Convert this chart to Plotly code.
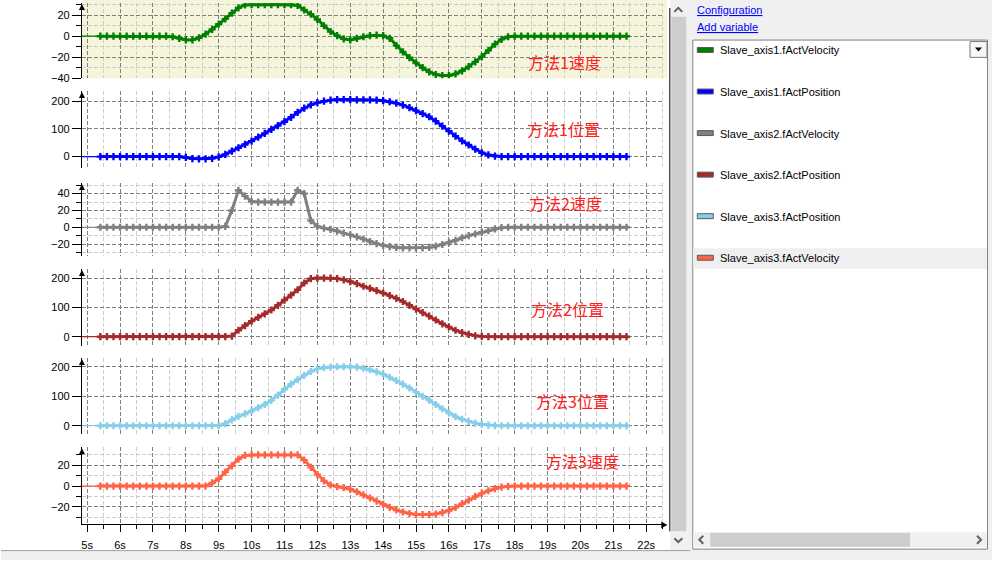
import plotly.graph_objects as go

W, H = 992, 566

# ---------------- data ----------------
time_s = [5.4, 5.6, 5.8, 6.0, 6.2, 6.4, 6.6, 6.8, 7.0, 7.2, 7.4, 7.6, 7.8, 8.0, 8.2, 8.4,
          8.6, 8.8, 9.0, 9.2, 9.4, 9.6, 9.8, 10.0, 10.2, 10.4, 10.6, 10.8, 11.0, 11.2, 11.4,
          11.6, 11.8, 12.0, 12.2, 12.4, 12.6, 12.8, 13.0, 13.2, 13.4, 13.6, 13.8, 14.0, 14.2,
          14.4, 14.6, 14.8, 15.0, 15.2, 15.4, 15.6, 15.8, 16.0, 16.2, 16.4, 16.6, 16.8, 17.0,
          17.2, 17.4, 17.6, 17.8, 18.0, 18.2, 18.4, 18.6, 18.8, 19.0, 19.2, 19.4, 19.6, 19.8,
          20.0, 20.2, 20.4, 20.6, 20.8, 21.0, 21.2, 21.4]

axis1_velocity = [0, 0, 0, 0, 0, 0, 0, 0, 0, 0, 0, -0.5, -2, -3.5, -3.5, -1.5,
                  2, 6.5, 11.5, 16.5, 22, 27, 29.8, 30, 30, 30, 30, 30, 30, 30, 29.5,
                  25, 21, 16, 10, 4.5, 0.5, -2.5, -3.5, -2, -0.5, 0.5, 1, 0.5, -2,
                  -9, -15, -20.5, -25.5, -30, -34, -36.5, -37.5, -37.5, -36, -33, -29, -24.5, -19.5,
                  -13.5, -7.5, -3, -0.5, 0, 0, 0, 0, 0, 0, 0, 0, 0, 0,
                  0, 0, 0, 0, 0, 0, 0, 0]

axis1_position = [0, 0, 0, 0, 0, 0, 0, 0, 0, 0, 0, 0, 0, -3, -7, -8,
                  -8, -6, -1, 8, 20, 32, 44, 56, 70, 84, 98, 112, 126, 142, 160,
                  175, 187, 195, 200, 204, 206, 206, 206, 205, 205, 205, 204, 202, 198,
                  193, 186, 177, 166, 155, 144, 128, 110, 92, 74, 57, 42, 27, 14,
                  6, 2, 0, 0, 0, 0, 0, 0, 0, 0, 0, 0, 0, 0,
                  0, 0, 0, 0, 0, 0, 0, 0]

axis2_velocity = [0, 0, 0, 0, 0, 0, 0, 0, 0, 0, 0, 0, 0, 0, 0, 0,
                  0, 0, 0, 1, 20, 44, 37, 30.5, 30, 30, 30, 30, 30, 30, 44,
                  40, 8, 1, -1, -2.5, -4.5, -7, -9, -11.5, -14, -17, -19.5, -21.5, -23,
                  -24, -24.5, -24.5, -24.5, -24.5, -24, -22.5, -20.5, -18, -15.5, -12.5, -10, -8, -6,
                  -4, -2, -0.5, 0, 0, 0, 0, 0, 0, 0, 0, 0, 0, 0,
                  0, 0, 0, 0, 0, 0, 0, 0]

axis2_position = [0, 0, 0, 0, 0, 0, 0, 0, 0, 0, 0, 0, 0, 0, 0, 0,
                  0, 0, 0, 0, 2, 22, 38, 53, 66, 78, 91, 107, 125, 142, 160,
                  183, 198, 200, 200, 199.5, 198, 194, 188, 181, 172, 165, 157, 149, 140,
                  131, 120, 107, 94, 82, 70, 57, 44, 33, 22, 14, 8, 3, 1,
                  0, 0, 0, 0, 0, 0, 0, 0, 0, 0, 0, 0, 0, 0,
                  0, 0, 0, 0, 0, 0, 0, 0]

axis3_position = [0, 0, 0, 0, 0, 0, 0, 0, 0, 0, 0, 0, 0, 0, 0, 0,
                  0, 0, 1, 7, 20, 32, 40, 50, 61, 72, 86, 104, 124, 141, 156,
                  171, 184, 193, 197, 199, 200, 200, 200, 199, 195, 190, 183, 175, 164,
                  153, 141, 128, 114, 100, 87, 72, 57, 43, 31, 22, 15, 9, 5,
                  2, 0.5, 0, 0, 0, 0, 0, 0, 0, 0, 0, 0, 0, 0,
                  0, 0, 0, 0, 0, 0, 0, 0]

axis3_velocity = [0, 0, 0, 0, 0, 0, 0, 0, 0, 0, 0, 0, 0, 0, 0, 0,
                  0, 3, 7, 13.5, 19.5, 26, 29.5, 30, 30, 30, 30, 30, 30, 30, 30,
                  25, 18, 11, 5, 1, -0.5, -1.5, -3, -5.5, -8.5, -11.5, -14.5, -17.5, -20.5,
                  -23, -25, -26.5, -27.5, -27.5, -27.5, -27, -25.5, -23.5, -20.5, -17, -13.5, -10, -7,
                  -4.5, -2.5, -1, -0.3, 0, 0, 0, 0, 0, 0, 0, 0, 0, 0,
                  0, 0, 0, 0, 0, 0, 0, 0]

series_names = ["Slave_axis1.fActVelocity", "Slave_axis1.fActPosition",
                "Slave_axis2.fActVelocity", "Slave_axis2.fActPosition",
                "Slave_axis3.fActPosition", "Slave_axis3.fActVelocity"]
series_values = [axis1_velocity, axis1_position, axis2_velocity,
                 axis2_position, axis3_position, axis3_velocity]
series_colors = ["#008000", "#0000FF", "#808080", "#A52A2A", "#87CEEB", "#FF6347"]
panel_labels = ["方法1速度", "方法1位置", "方法2速度", "方法2位置", "方法3位置", "方法3速度"]

x_tick_suffix = "s"
X_RANGE = [4.84, 22.55]

# panel geometry (pixels) and y ranges
panel_px = [(3, 79), (92, 170), (185, 259), (272, 350), (362, 439), (452, 530)]
panel_yrange = [[-40, 31.7], [-41.8, 236.8], [-34.5, 52.6], [-32.7, 230.4], [-29.2, 229.2], [-36.9, 37.4]]
panel_dtick = [20, 100, 20, 100, 100, 20]
panel_minor = [10, None, 10, None, None, 10]
label_pos = [(564, 63), (563, 130), (565, 205), (567, 312), (572, 405), (582, 466)]
legend_rows = [51, 93, 135, 177, 219, 261]


def px(x):
    return x / W


def py(y):
    return 1 - y / H


DARK = "#7F7F7F"
LIGHT = "#CDCDCD"
DASH = "4px,2px"
TICKFONT = dict(family="Liberation Sans, Arial, sans-serif", size=11, color="#000000")

fig = go.Figure()

for i, (name, vals, color) in enumerate(zip(series_names, series_values, series_colors)):
    sfx = "" if i == 0 else str(i + 1)
    fig.add_trace(go.Scatter(
        x=[X_RANGE[0], time_s[0]], y=[vals[0], vals[0]], mode="lines",
        line=dict(color=color, width=1.2), xaxis="x" + sfx, yaxis="y" + sfx,
        hoverinfo="skip", showlegend=False))
    fig.add_trace(go.Scatter(
        x=time_s, y=vals, mode="lines+markers", name=name,
        line=dict(color=color, width=3),
        marker=dict(symbol="cross", size=6, color=color, line=dict(width=0)),
        xaxis="x" + sfx, yaxis="y" + sfx, showlegend=False))

layout = dict(
    width=W, height=H, margin=dict(l=0, r=0, t=0, b=0),
    paper_bgcolor="white", plot_bgcolor="rgba(0,0,0,0)",
    showlegend=False, hovermode=False,
)

for i in range(6):
    sfx = "" if i == 0 else str(i + 1)
    bottom = (i == 5)
    top_px, bot_px = panel_px[i]
    layout["xaxis" + sfx] = dict(
        domain=[px(81), px(664)], range=X_RANGE, anchor="y" + sfx,
        tick0=5, dtick=1, showgrid=True, gridcolor=DARK, griddash=DASH, gridwidth=1,
        zeroline=False, showline=bottom, linecolor="black", linewidth=1,
        ticks="outside" if bottom else "", ticklen=7, tickcolor="black",
        showticklabels=bottom, ticksuffix=x_tick_suffix, tickfont=TICKFONT,
        ticklabelstandoff=3,
        minor=dict(tick0=5, dtick=0.5, showgrid=True, gridcolor=LIGHT, griddash=DASH,
                   ticks="outside" if bottom else "", ticklen=4, tickcolor="black"),
        fixedrange=True)
    ydict = dict(
        domain=[py(bot_px), py(top_px)], range=panel_yrange[i], anchor="x" + sfx,
        tick0=0, dtick=panel_dtick[i], showgrid=True, gridcolor=DARK, griddash=DASH,
        zeroline=False, showline=True, linecolor="black", linewidth=1,
        ticks="outside", ticklen=9, tickcolor="black", tickfont=TICKFONT,
        fixedrange=True)
    if panel_minor[i]:
        ydict["minor"] = dict(tick0=0, dtick=panel_minor[i], showgrid=True, gridcolor=LIGHT,
                              griddash=DASH, ticks="outside", ticklen=5, tickcolor="black")
    layout["yaxis" + sfx] = ydict

fig.update_layout(**layout)

shapes = []


def rect(x0, y0, x1, y1, fill, line=None, layer="above", lw=1):
    shapes.append(dict(type="rect", xref="paper", yref="paper",
                       x0=px(x0), x1=px(x1), y0=py(y1), y1=py(y0),
                       fillcolor=fill, layer=layer,
                       line=dict(color=line if line else "rgba(0,0,0,0)", width=lw if line else 0)))


def path(points, fill=None, line=None, lw=1, closed=True):
    d = "M " + " L ".join(f"{px(a):.5f},{py(b):.5f}" for a, b in points)
    if closed:
        d += " Z"
    shapes.append(dict(type="path", xref="paper", yref="paper", path=d,
                       fillcolor=fill if fill else "rgba(0,0,0,0)",
                       line=dict(color=line if line else "rgba(0,0,0,0)", width=lw if line else 0)))


# beige background of first panel
rect(81, 0, 667, 79, "#F5F5DC", layer="below")

# y axis arrows
for top_px, bot_px in panel_px:
    path([(81, top_px + 1), (84, top_px + 7), (78, top_px + 7)], fill="black")
# x axis arrow
path([(661, 527), (667, 530.5), (661, 534)], fill="black")

# right side panel
rect(686, 0, 992, 566, "#F0F0F0")
rect(670, 0, 686, 556, "#F0F0F0")
rect(671, 17, 686, 537, "#CDCDCD")
shapes.append(dict(type="line", xref="paper", yref="paper", x0=px(669.5), x1=px(669.5),
                   y0=py(8), y1=py(537), line=dict(color="black", width=1)))
path([(674, 12), (678, 8), (682, 12)], line="#606060", lw=2, closed=False)
path([(674, 544), (678, 548), (682, 544)], line="#606060", lw=2, closed=False)
# bottom strip
rect(0, 556, 992, 566, "#F0F0F0")
shapes.append(dict(type="line", xref="paper", yref="paper", x0=0, x1=px(690),
                   y0=py(556.5), y1=py(556.5), line=dict(color="#A0A0A0", width=1)))

# legend box
rect(692.5, 40.5, 987.5, 555, "white", line="#828282")
rect(693, 251, 987, 272, "#EFEFEF")
for yc, col in zip(legend_rows, series_colors):
    rect(697, yc - 3, 713, yc + 2, col, line="#5A5A5A")
# dropdown button
rect(970, 42, 987, 58, "#F7F7F7", line="#7A7A7A")
path([(975, 48), (982, 48), (978.5, 52)], fill="black")
# horizontal scroll bar
rect(693, 538, 987, 553, "#F0F0F0")
rect(710, 538.5, 910, 552.5, "#CDCDCD")
path([(703, 541.5), (699, 545.5), (703, 549.5)], line="#606060", lw=2, closed=False)
path([(977, 541.5), (981, 545.5), (977, 549.5)], line="#606060", lw=2, closed=False)

annotations = []
for (xc, yc), txt in zip(label_pos, panel_labels):
    annotations.append(dict(x=px(xc), y=py(yc), xref="paper", yref="paper", text=txt,
                            showarrow=False, xanchor="center", yanchor="middle",
                            font=dict(family="Noto Sans CJK SC", size=16, color="#FF2020")))
for yc, name in zip(legend_rows, series_names):
    annotations.append(dict(x=px(718), y=py(yc), xref="paper", yref="paper", text=name,
                            showarrow=False, xanchor="left", yanchor="middle",
                            font=dict(family="Liberation Sans, Arial, sans-serif", size=11, color="#000000")))
for yc, txt in [(10, "Configuration"), (27, "Add variable")]:
    annotations.append(dict(x=px(695), y=py(yc), xref="paper", yref="paper", text=f"<u>{txt}</u>",
                            showarrow=False, xanchor="left", yanchor="middle",
                            font=dict(family="Liberation Sans, Arial, sans-serif", size=11, color="#0000FF")))

fig.update_layout(shapes=shapes, annotations=annotations)

fig.write_html("out.html", config={"displayModeBar": False})
